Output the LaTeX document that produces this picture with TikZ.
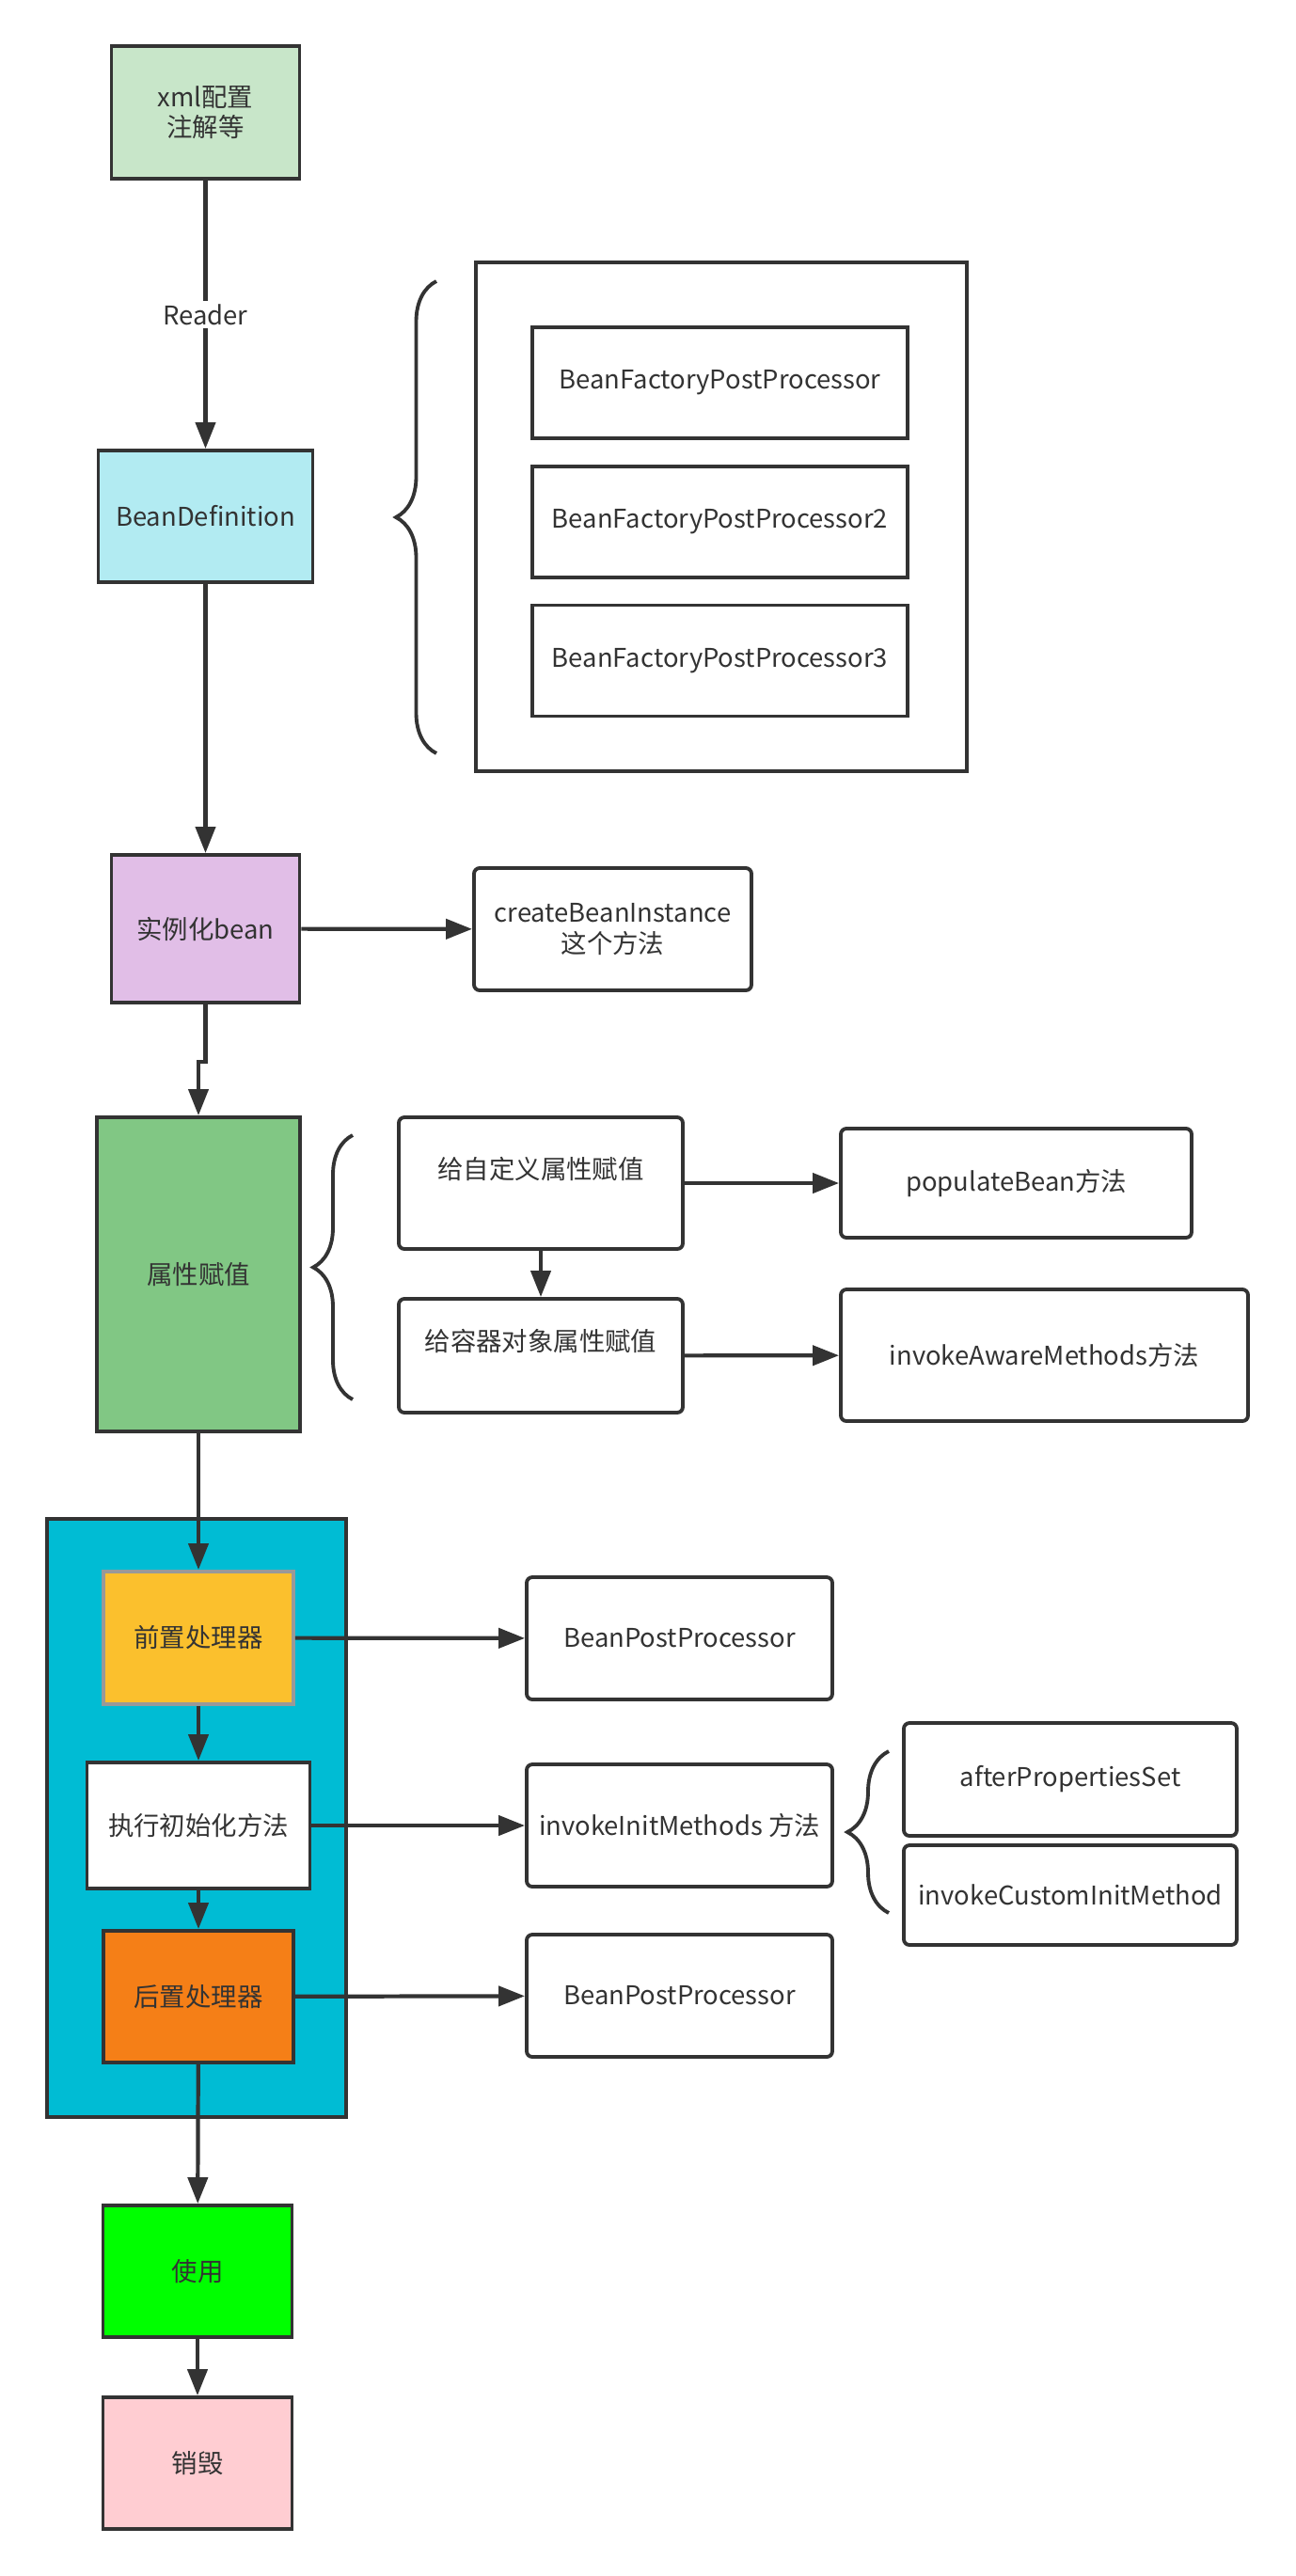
\documentclass[tikz,border=0pt]{standalone}
\usepackage{fontspec}
\setmainfont{Noto Sans CJK SC}
\usetikzlibrary{arrows.meta,positioning,decorations.pathreplacing}
\definecolor{cLine}{HTML}{333333}
\definecolor{cXml}{HTML}{C8E6C9}
\definecolor{cDef}{HTML}{B2EBF2}
\definecolor{cInst}{HTML}{E1BEE7}
\definecolor{cProp}{HTML}{81C784}
\definecolor{cGroup}{HTML}{00BCD4}
\definecolor{cPre}{HTML}{FBC02D}
\definecolor{cPreEdge}{HTML}{999999}
\definecolor{cPost}{HTML}{F57F17}
\definecolor{cUse}{HTML}{00FF00}
\definecolor{cEnd}{HTML}{FFCDD2}
\tikzset{
  box/.style={draw=cLine, line width=1.1pt, align=center, text=cLine, inner sep=2pt},
  stage/.style={box, minimum width=20mm, minimum height=14mm},
  plainbox/.style={box, fill=white, minimum width=39.9mm, minimum height=11.8mm},
  method/.style={box, fill=white, rounded corners=0.6mm, minimum height=13mm},
  flow/.style={-{Triangle[length=2.8mm, width=2.1mm]}, line width=1.2pt, draw=cLine},
  curly/.style={decorate, decoration={brace, amplitude=#1}, line width=1.1pt, draw=cLine},
}

\begin{document}
\begin{tikzpicture}[font=\fontsize{7.8pt}{9.2pt}\selectfont]
    \useasboundingbox (0,0) rectangle (13.78,-27.39);
    % main life-cycle column
    \node[stage, fill=cXml, minimum height=14.1mm] (xml) at (2.185,-1.195) {xml配置\\注解等};
    \node[stage, fill=cDef, minimum width=22.8mm] (bdef) at (2.185,-5.49) {BeanDefinition};
    \node[stage, fill=cInst, minimum height=15.7mm] (inst) at (2.185,-9.875) {实例化bean};
    \node[stage, fill=cProp, minimum width=21.6mm, minimum height=33.4mm] (prop) at (2.11,-13.55) {属性赋值};
    \draw[flow] (xml) -- node[fill=white, text=cLine, inner sep=1pt]{Reader} (bdef);
    \draw[flow] (bdef) -- (inst);
    \draw[flow] (inst.south) -- ++(0,-0.61) -| (prop.north);
    % bean factory post processors
    \draw[cLine, line width=1.1pt] (5.06,-2.79) rectangle (10.28,-8.20);
    \node[plainbox] (bfp1) at (7.655,-4.07) {BeanFactoryPostProcessor};
    \node[plainbox] (bfp2) at (7.655,-5.55) {BeanFactoryPostProcessor2};
    \node[plainbox] (bfp3) at (7.655,-7.025) {BeanFactoryPostProcessor3};
    \draw[curly=4.3mm] (4.64,-8.01) -- (4.64,-2.99);
    % instantiation and property filling
    \node[method, minimum width=29.5mm] (cbi) at (6.515,-9.88) {createBeanInstance\\这个方法};
    \draw[flow] (inst) -- (cbi);
    \node[method, minimum width=30.2mm, minimum height=14mm] (self) at (5.75,-12.58) {给自定义属性赋值\\\mbox{}};
    \node[method, minimum width=30.2mm, minimum height=12.1mm] (cont) at (5.75,-14.415) {给容器对象属性赋值\\\mbox{}};
    \node[method, minimum width=37.3mm, minimum height=11.6mm] (pop) at (10.805,-12.58) {populateBean方法};
    \node[method, minimum width=43.3mm, minimum height=14mm] (aware) at (11.105,-14.41) {invokeAwareMethods方法};
    \draw[curly=4.2mm] (3.75,-14.88) -- (3.75,-12.07);
    \draw[flow] (self) -- (cont);
    \draw[flow] (self) -- (pop);
    \draw[flow] (cont) -- (aware);
    % initialisation group
    \draw[cLine, line width=1.1pt, fill=cGroup] (0.50,-16.15) rectangle (3.68,-22.51);
    \node[stage, fill=cPre, draw=cPreEdge, minimum width=20.2mm, minimum height=14.1mm] (pre) at (2.11,-17.415) {前置处理器};
    \node[stage, fill=white, minimum width=23.7mm, minimum height=13.4mm] (init) at (2.11,-19.41) {执行初始化方法};
    \node[stage, fill=cPost, minimum width=20.2mm] (post) at (2.11,-21.23) {后置处理器};
    \draw[flow] (prop) -- (pre);
    \draw[flow] (pre) -- (init);
    \draw[flow] (init) -- (post);
    \node[method, minimum width=32.5mm] (bpp1) at (7.225,-17.42) {BeanPostProcessor};
    \node[method, minimum width=32.5mm] (iim) at (7.225,-19.41) {invokeInitMethods 方法};
    \node[method, minimum width=32.5mm] (bpp2) at (7.225,-21.22) {BeanPostProcessor};
    \draw[flow] (pre) -- (bpp1);
    \draw[flow] (init) -- (iim);
    \draw[flow] (post) -- (bpp2);
    \node[method, minimum width=35.4mm, minimum height=12mm] (aps) at (11.38,-18.92) {afterPropertiesSet};
    \node[method, minimum width=35.4mm, minimum height=10.6mm] (icim) at (11.38,-20.15) {invokeCustomInitMethod};
    \draw[curly=4.4mm] (9.45,-20.34) -- (9.45,-18.62);
    % use and destroy
    \node[stage, fill=cUse, minimum width=20.1mm] (use) at (2.10,-24.15) {使用};
    \node[stage, fill=cEnd, minimum width=20.1mm] (destroy) at (2.10,-26.19) {销毁};
    \draw[flow] (post) -- (use);
    \draw[flow] (use) -- (destroy);
\end{tikzpicture}
\end{document}
